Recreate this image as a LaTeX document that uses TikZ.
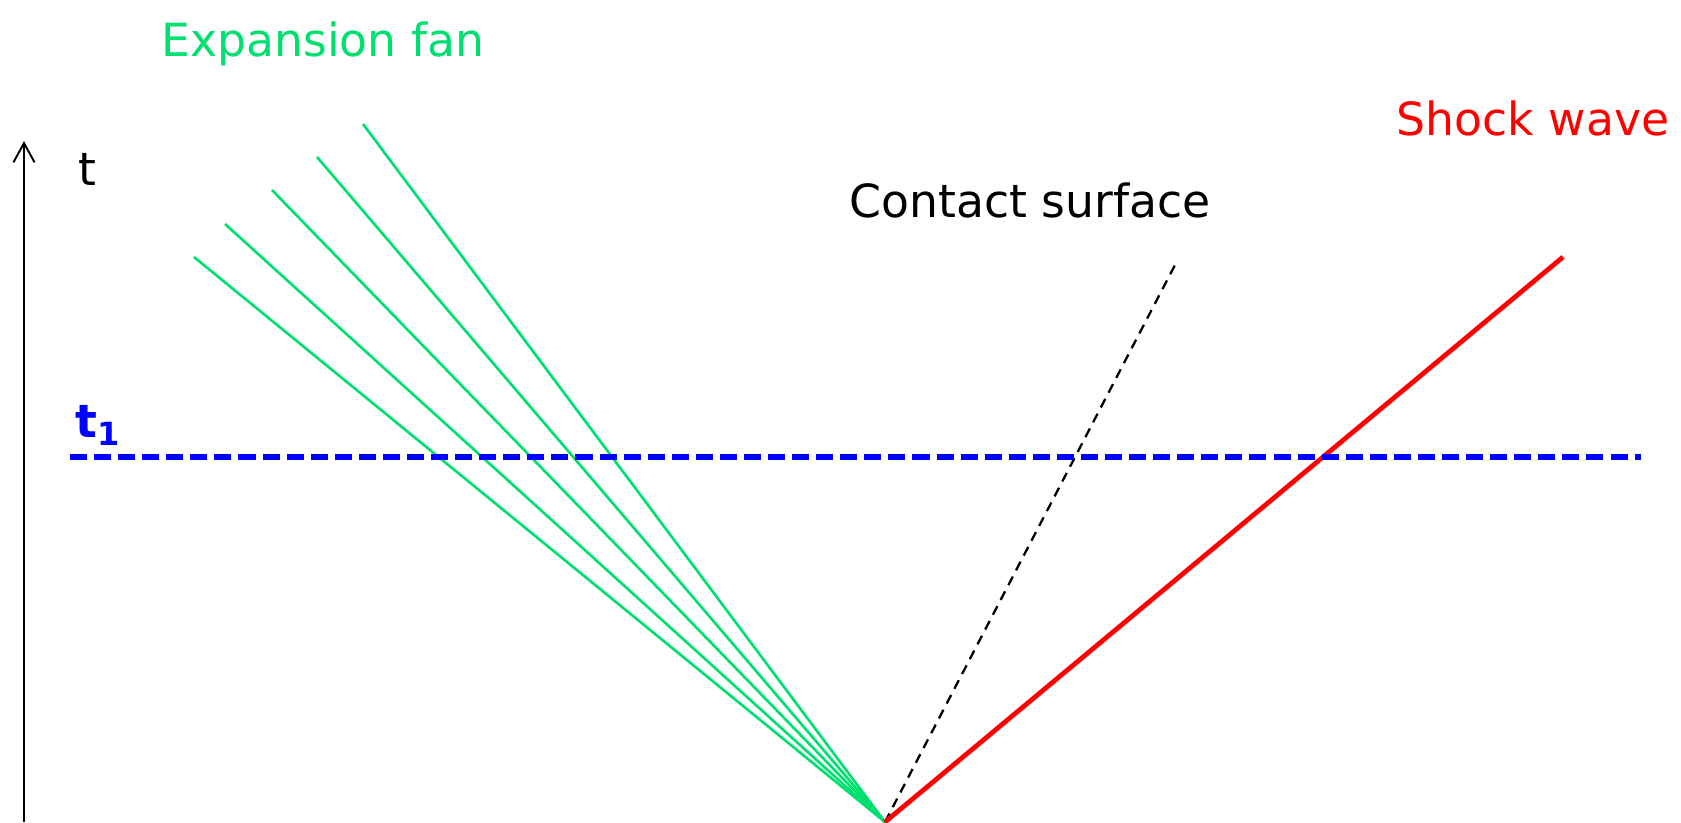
\documentclass[tikz,border=0pt]{standalone}
\usepackage{fontspec}
\setmainfont{DejaVu Sans}
\usepackage{xcolor}
\usepackage{tikz}
\usetikzlibrary{arrows.meta}
\definecolor{fangreen}{HTML}{00E070}
\definecolor{shockred}{HTML}{FF0000}
\definecolor{levelblue}{HTML}{0000FF}

\begin{document}
\begin{tikzpicture}[
  x=0.02cm, y=-0.02cm,
  label/.style={inner sep=0pt, anchor=base, font=\fontsize{26}{31}\selectfont},
  axis/.style={-{Straight Barb[length=11pt, width=12pt]}, line width=1.1pt, draw=black},
  fan/.style={line width=1.5pt, draw=fangreen},
  contact/.style={line width=1.3pt, draw=black, dash pattern=on 5.5pt off 4pt},
  shock/.style={line width=2.7pt, draw=shockred},
  level/.style={line width=3.4pt, draw=levelblue, dash pattern=on 9.7pt off 4pt}
]
\useasboundingbox (0,0) rectangle (1681,822);

\coordinate (origin) at (885,822);
\coordinate (axisfoot) at (24,822);
\coordinate (axistip) at (24,141);
\coordinate (fana) at (194,257);
\coordinate (fanb) at (225,224);
\coordinate (fanc) at (272,190);
\coordinate (fand) at (317,157);
\coordinate (fane) at (363,124);
\coordinate (contacttop) at (1175,265);
\coordinate (shocktop) at (1563,257);
\coordinate (levelleft) at (70,457);
\coordinate (levelright) at (1641,457);

\node[label, text=fangreen] (fanlabel) at (323,56) {Expansion fan};
\node[label] (contactlabel) at (1030,217) {Contact surface};
\node[label, text=shockred] (shocklabel) at (1533,135) {Shock wave};
\node[label] (tlabel) at (87,185) {t};
\node[label, anchor=base west, text=levelblue, font=\fontsize{26}{31}\selectfont\bfseries] (tonelabel) at (75,437) {t\textsubscript{1}};

\draw[axis] (axisfoot) -- (axistip);
\foreach \f in {fana,fanb,fanc,fand,fane}
  \draw[fan] (origin) -- (\f);
\draw[contact] (origin) -- (contacttop);
\draw[shock] (origin) -- (shocktop);
\draw[level] (levelleft) -- (levelright);
\end{tikzpicture}
\end{document}
